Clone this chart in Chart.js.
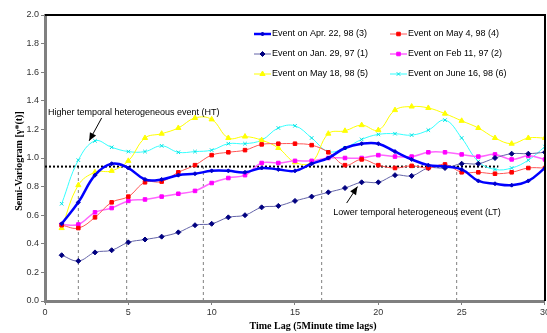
<!DOCTYPE html>
<html>
<head>
<meta charset="utf-8">
<script src="https://cdn.jsdelivr.net/npm/chart.js@4.4.1/dist/chart.umd.min.js"></script>
<style>
  html, body { margin: 0; padding: 0; background: #fff; overflow: hidden; }
  #wrap { width: 547px; height: 333px; overflow: hidden; }
</style>
</head>
<body>
<div id="wrap"><canvas id="chart" width="552" height="333"></canvas></div>
<script>
// time lags (5 minute steps)
const lags = [1, 2, 3, 4, 5, 6, 7, 8, 9, 10, 11, 12, 13, 14, 15, 16, 17, 18, 19, 20, 21, 22, 23, 24, 25, 26, 27, 28, 29, 30];

const jan29 = [0.32, 0.28, 0.34, 0.355, 0.41, 0.43, 0.45, 0.48, 0.53, 0.54, 0.585, 0.60, 0.655, 0.665, 0.70, 0.73, 0.76, 0.79, 0.83, 0.83, 0.88, 0.875, 0.93, 0.93, 0.96, 0.96, 1.00, 1.03, 1.03, 1.04];
const feb11 = [0.535, 0.535, 0.62, 0.65, 0.70, 0.71, 0.73, 0.75, 0.77, 0.825, 0.86, 0.88, 0.965, 0.965, 0.98, 0.98, 1.00, 1.00, 1.00, 1.02, 1.01, 1.01, 1.04, 1.04, 1.025, 1.01, 1.025, 0.99, 1.015, 0.99];
const apr22 = [0.54, 0.69, 0.88, 0.96, 0.93, 0.85, 0.85, 0.88, 0.89, 0.91, 0.91, 0.90, 0.93, 0.92, 0.91, 0.96, 1.00, 1.07, 1.10, 1.10, 1.045, 0.99, 0.95, 0.94, 0.92, 0.84, 0.82, 0.81, 0.84, 0.93];
const may4 = [0.53, 0.51, 0.585, 0.69, 0.73, 0.83, 0.835, 0.90, 0.95, 1.02, 1.04, 1.055, 1.095, 1.10, 1.10, 1.09, 1.04, 0.95, 0.99, 0.95, 0.93, 0.945, 0.93, 0.955, 0.90, 0.90, 0.89, 0.90, 0.93, 0.93];
const may18 = [0.51, 0.81, 0.90, 0.91, 0.98, 1.14, 1.17, 1.21, 1.28, 1.27, 1.14, 1.15, 1.125, 1.07, 0.97, 0.97, 1.17, 1.19, 1.23, 1.195, 1.335, 1.36, 1.35, 1.31, 1.26, 1.21, 1.14, 1.10, 1.14, 1.14];
const jun16 = [0.68, 0.985, 1.12, 1.075, 1.045, 1.045, 1.085, 1.04, 1.045, 1.055, 1.10, 1.10, 1.125, 1.21, 1.225, 1.14, 1.045, 1.07, 1.13, 1.165, 1.17, 1.16, 1.195, 1.265, 1.14, 0.975, 0.92, 0.93, 0.985, 1.08];

// reference lines
const threshold = 0.94;
const thresholdEnd = 27.2;
const cutLags = [2, 4.9, 9.5, 16.6, 24.7];

const yTicks = [0, 0.2, 0.4, 0.6, 0.8, 1.0, 1.2, 1.4, 1.6, 1.8, 2.0];

const series = [
  { label: 'Event on Apr. 22, 98 (3)', values: apr22, line: '#0000ff', point: '#0000cc', style: 'rectRot', r: 2, w: 2.5 },
  { label: 'Event on May 4, 98 (4)', values: may4, line: '#ff5555', point: '#ff0000', style: 'rect', r: 2.5, w: 1 },
  { label: 'Event on Jan. 29, 97 (1)', values: jan29, line: '#6464a8', point: '#000080', style: 'rectRot', r: 2.5, w: 1 },
  { label: 'Event on Feb 11, 97 (2)', values: feb11, line: '#ff66ff', point: '#ff00ff', style: 'rect', r: 2.5, w: 1.5 },
  { label: 'Event on May 18, 98 (5)', values: may18, line: '#ffff00', point: '#ffff00', style: 'triangle', r: 3, w: 1 },
  { label: 'Event on June 16, 98 (6)', values: jun16, line: '#33ffff', point: '#00e0e0', style: 'crossRot', r: 2.5, w: 1 }
];

const datasets = series.map(function (s) {
  return {
    label: s.label,
    data: lags.map(function (x, i) { return { x: x, y: s.values[i] }; }),
    borderColor: s.line,
    borderWidth: s.w,
    backgroundColor: s.point,
    pointBackgroundColor: s.point,
    pointBorderColor: s.point,
    pointBorderWidth: 1,
    pointStyle: s.style,
    pointRadius: s.r,
    tension: 0.4,
    fill: false,
    isSeries: true
  };
});

datasets.push({
  label: 'threshold',
  data: [{ x: 0, y: threshold }, { x: thresholdEnd, y: threshold }],
  borderColor: '#000',
  borderWidth: 2,
  borderDash: [2, 2],
  pointRadius: 0,
  tension: 0
});

cutLags.forEach(function (c) {
  datasets.push({
    label: 'cut',
    data: [{ x: c, y: 0 }, { x: c, y: threshold }],
    borderColor: '#808080',
    borderWidth: 1,
    borderDash: [3, 3],
    pointRadius: 0,
    tension: 0
  });
});

function arrow(ctx, x1, y1, x2, y2) {
  ctx.beginPath();
  ctx.moveTo(x1, y1);
  ctx.lineTo(x2, y2);
  ctx.stroke();
  const a = Math.atan2(y2 - y1, x2 - x1);
  const len = 8, half = 3.5;
  ctx.beginPath();
  ctx.moveTo(x2, y2);
  ctx.lineTo(x2 - len * Math.cos(a) + half * Math.sin(a), y2 - len * Math.sin(a) - half * Math.cos(a));
  ctx.lineTo(x2 - len * Math.cos(a) - half * Math.sin(a), y2 - len * Math.sin(a) + half * Math.cos(a));
  ctx.closePath();
  ctx.fill();
}

const extras = {
  id: 'extras',
  afterDraw: function (chart) {
    const ctx = chart.ctx;
    const a = chart.chartArea;
    const xs = chart.scales.x, ys = chart.scales.y;
    ctx.save();

    // frame top/right
    ctx.strokeStyle = '#000';
    ctx.lineWidth = 2;
    ctx.beginPath();
    ctx.moveTo(a.left, a.top);
    ctx.lineTo(a.right, a.top);
    ctx.lineTo(a.right, a.bottom);
    ctx.stroke();

    // legend
    const cols = [254, 390];
    const rows = [34, 54, 74];
    ctx.font = '9px "Liberation Sans", Arial, sans-serif';
    ctx.textBaseline = 'middle';
    series.forEach(function (s, i) {
      const lx = cols[i % 2], ly = rows[Math.floor(i / 2)];
      ctx.strokeStyle = s.line;
      ctx.lineWidth = s.w;
      ctx.beginPath();
      ctx.moveTo(lx, ly);
      ctx.lineTo(lx + 17, ly);
      ctx.stroke();
      ctx.fillStyle = s.point;
      ctx.strokeStyle = s.point;
      ctx.lineWidth = 1;
      Chart.helpers.drawPoint(ctx, { pointStyle: s.style, radius: s.r, rotation: 0, borderWidth: 1 }, lx + 8.5, ly);
      ctx.fillStyle = '#000';
      ctx.fillText(s.label, lx + 18, ly);
    });

    // annotations
    ctx.fillStyle = '#000';
    ctx.strokeStyle = '#000';
    ctx.lineWidth = 1;
    ctx.font = '9px "Liberation Sans", Arial, sans-serif';
    ctx.fillText('Higher temporal heterogeneous event (HT)', xs.getPixelForValue(0.18), ys.getPixelForValue(1.315));
    arrow(ctx, xs.getPixelForValue(3.4), ys.getPixelForValue(1.28), xs.getPixelForValue(2.65), ys.getPixelForValue(1.12));
    ctx.fillText('Lower temporal heterogeneous event (LT)', xs.getPixelForValue(17.3), ys.getPixelForValue(0.62));
    arrow(ctx, xs.getPixelForValue(18.1), ys.getPixelForValue(0.685), xs.getPixelForValue(18.75), ys.getPixelForValue(0.80));

    // axis titles
    ctx.font = 'bold 10px "Liberation Serif", "Times New Roman", serif';
    ctx.textAlign = 'center';
    ctx.fillText('Time Lag (5Minute time lags)', 313, 326);
    ctx.translate(19, 161);
    ctx.rotate(-Math.PI / 2);
    ctx.fillText('Semi-Variogram [γ*(t)]', 0, 0);
    ctx.restore();
  }
};

Chart.defaults.font.family = '"Liberation Sans", Arial, sans-serif';

new Chart(document.getElementById('chart'), {
  type: 'line',
  data: { datasets: datasets },
  options: {
    responsive: false,
    animation: false,
    devicePixelRatio: 1,
    layout: { padding: { top: 15, right: 7, left: 0, bottom: 0 } },
    plugins: {
      legend: { display: false },
      tooltip: { enabled: false }
    },
    scales: {
      x: {
        type: 'linear',
        min: 0,
        max: 30,
        ticks: { stepSize: 5, color: '#333', font: { size: 9 }, padding: 2, maxRotation: 0 },
        grid: { drawOnChartArea: false, drawTicks: true, tickLength: 4, color: '#808080' },
        border: { color: '#808080', width: 3 },
        afterFit: function (scale) { scale.height = 32; }
      },
      y: {
        min: 0,
        max: 2,
        afterBuildTicks: function (scale) { scale.ticks = yTicks.map(function (v) { return { value: v }; }); },
        ticks: { color: '#333', font: { size: 9 }, padding: 2, callback: function (v) { return Number(v).toFixed(1); } },
        grid: { drawOnChartArea: false, drawTicks: true, tickLength: 4, color: '#808080' },
        border: { color: '#808080', width: 3 },
        afterFit: function (scale) { scale.width = 45; }
      }
    }
  },
  plugins: [extras]
});
</script>
</body>
</html>
